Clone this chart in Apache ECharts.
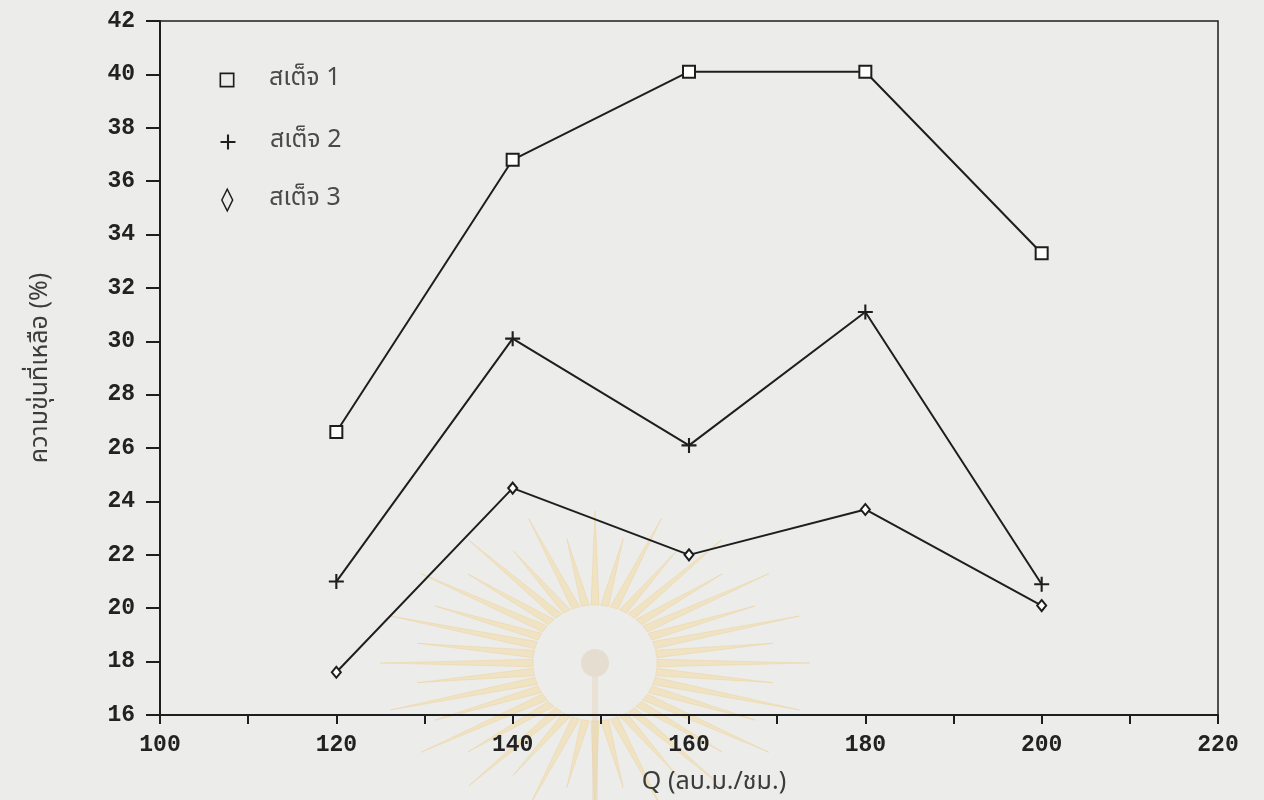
<!DOCTYPE html>
<html>
<head>
<meta charset="utf-8">
<script src="https://cdn.jsdelivr.net/npm/echarts@6/dist/echarts.min.js"></script>
<style>
  html, body { margin: 0; padding: 0; background: #ececeb; }
  #chart { width: 1264px; height: 800px; }
</style>
</head>
<body>
<div id="chart"></div>
<script>
// Flow rate Q (m3/h) and remaining turbidity (%) for each stage
const flowRates = [120, 140, 160, 180, 200];
const stage1 = [26.6, 36.8, 40.1, 40.1, 33.3];
const stage2 = [21.0, 30.1, 26.1, 31.1, 20.9];
const stage3 = [17.6, 24.5, 22.0, 23.7, 20.1];
const stageNames = ['สเต็จ 1', 'สเต็จ 2', 'สเต็จ 3'];
const xTitle = 'Q (ลบ.ม./ชม.)';
const yTitle = 'ความขุ่นที่เหลือ (%)';

const ink = '#1e1e1e';
const thaiFont = '"Noto Sans Thai", "Noto Sans", "DejaVu Sans", sans-serif';
const numFont = '"Liberation Mono", "DejaVu Sans Mono", monospace';

const plusPath = 'path://M4.3,0 H5.7 V4.3 H10 V5.7 H5.7 V10 H4.3 V5.7 H0 V4.3 H4.3 Z';
const squarePath = 'path://M0,0 H10 V10 H0 Z M1.1,1.1 V8.9 H8.9 V1.1 Z';
const diamondPath = 'path://M5,0 L10,10 L5,20 L0,10 Z M5,2.6 L1.3,10 L5,17.4 L8.7,10 Z';

function pairs(values) {
  return flowRates.map((x, i) => [x, values[i]]);
}

// Pale sunburst emblem behind the plot
function emblem(cx, cy) {
  const items = [];
  const n = 40;
  for (let i = 0; i < n; i++) {
    const a = (i / n) * Math.PI * 2;
    const long = i % 2 === 0;
    const r0x = 62, r0y = 58;
    const r1x = long ? 215 : 180, r1y = long ? 152 : 126;
    const w = 0.065;
    const pts = [
      [cx + Math.cos(a - w) * r0x, cy + Math.sin(a - w) * r0y],
      [cx + Math.cos(a) * r1x, cy + Math.sin(a) * r1y],
      [cx + Math.cos(a + w) * r0x, cy + Math.sin(a + w) * r0y]
    ];
    items.push({
      type: 'polygon', silent: true, z: -10,
      shape: { points: pts },
      style: { fill: 'rgba(244, 214, 140, 0.42)', stroke: 'rgba(236, 186, 90, 0.22)', lineWidth: 1 }
    });
  }
  items.push({
    type: 'circle', silent: true, z: -10,
    shape: { cx: cx, cy: cy, r: 14 },
    style: { fill: 'rgba(222, 205, 175, 0.45)' }
  });
  items.push({
    type: 'rect', silent: true, z: -10,
    shape: { x: cx - 3, y: cy + 14, width: 6, height: 140 },
    style: { fill: 'rgba(225, 205, 170, 0.35)' }
  });
  return items;
}

function legendBlock(name, icon, centerY, w, h) {
  return {
    orient: 'vertical',
    left: 228 - w / 2,
    top: centerY - h / 2,
    padding: 0,
    itemWidth: w,
    itemHeight: h,
    icon: icon,
    data: [name],
    selectedMode: false,
    textStyle: {
      fontFamily: thaiFont, fontSize: 25, color: '#4a4a4a',
      padding: [0, 0, 0, 37 - w / 2]
    },
    itemStyle: { color: ink, borderWidth: 0 }
  };
}

const chart = echarts.init(document.getElementById('chart'));
chart.setOption({
  backgroundColor: '#ececeb',
  animation: false,
  graphic: emblem(595, 663),
  grid: {
    left: 160, right: 46, top: 21, bottom: 85,
    outerBoundsMode: 'none',
    containLabel: false,
    show: true, borderColor: ink, borderWidth: 1.5,
    backgroundColor: 'transparent'
  },
  legend: [
    legendBlock(stageNames[0], squarePath, 75, 17, 15),
    legendBlock(stageNames[1], plusPath, 137, 15, 15),
    legendBlock(stageNames[2], diamondPath, 200, 14, 25)
  ],
  xAxis: {
    type: 'value', min: 100, max: 220, interval: 10,
    name: xTitle, nameLocation: 'middle', nameGap: 56,
    nameTextStyle: {
      fontFamily: thaiFont, fontSize: 25, color: '#3c3c3c',
      padding: [0, 0, 0, 50]
    },
    axisLine: { lineStyle: { color: ink, width: 2 } },
    axisTick: { length: 9, lineStyle: { color: ink, width: 2 } },
    splitLine: { show: false },
    axisLabel: {
      margin: 19, fontFamily: numFont, fontWeight: 'bold', fontSize: 23, color: '#222',
      formatter: v => (v % 20 === 0 ? String(v) : '')
    }
  },
  yAxis: {
    type: 'value', min: 16, max: 42, interval: 2,
    name: yTitle, nameLocation: 'middle', nameGap: 106, nameRotate: 90,
    nameTextStyle: { fontFamily: thaiFont, fontSize: 25, color: '#3c3c3c' },
    axisLine: { show: true, lineStyle: { color: ink, width: 2 } },
    axisTick: { show: true, length: 14, lineStyle: { color: ink, width: 2 } },
    splitLine: { show: false },
    axisLabel: {
      margin: 25, fontFamily: numFont, fontWeight: 'bold', fontSize: 23, color: '#222'
    }
  },
  series: [
    {
      name: stageNames[0], type: 'line', data: pairs(stage1),
      symbol: 'emptyRect', symbolSize: 12,
      lineStyle: { color: ink, width: 2 },
      itemStyle: { color: ink, borderColor: ink, borderWidth: 1.8 }
    },
    {
      name: stageNames[1], type: 'line', data: pairs(stage2),
      symbol: plusPath, symbolSize: 15,
      lineStyle: { color: ink, width: 2 },
      itemStyle: { color: ink }
    },
    {
      name: stageNames[2], type: 'line', data: pairs(stage3),
      symbol: 'emptyDiamond', symbolSize: [9, 11],
      lineStyle: { color: ink, width: 2 },
      itemStyle: { color: ink, borderColor: ink, borderWidth: 1.8 }
    }
  ]
});
</script>
</body>
</html>
